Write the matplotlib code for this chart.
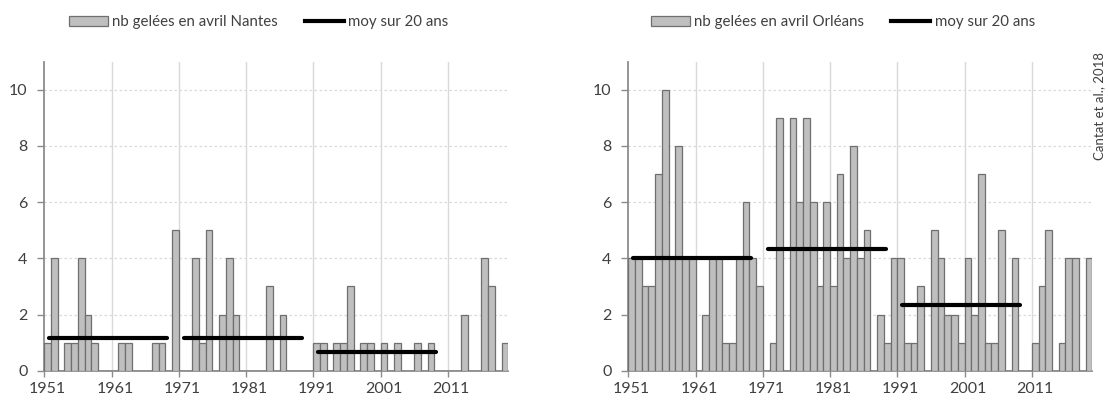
import numpy as np
import matplotlib
matplotlib.use("Agg")
import matplotlib.pyplot as plt
from matplotlib.patches import Patch
from matplotlib.lines import Line2D

plt.rcParams["font.family"] = ["Lato", "DejaVu Sans"]

years = np.arange(1951, 2020)

# nombre de jours de gel en avril, 1951-2019
nantes = [1, 4, 0, 1, 1, 4, 2, 1, 0, 0,
          0, 1, 1, 0, 0, 0, 1, 1, 0, 5,
          0, 0, 4, 1, 5, 0, 2, 4, 2, 0,
          0, 0, 0, 3, 0, 2, 0, 0, 0, 0,
          1, 1, 0, 1, 1, 3, 0, 1, 1, 0,
          1, 0, 1, 0, 0, 1, 0, 1, 0, 0,
          0, 0, 2, 0, 0, 4, 3, 0, 1]
orleans = [4, 4, 3, 3, 7, 10, 4, 8, 4, 4,
           0, 2, 4, 4, 1, 1, 4, 6, 4, 3,
           0, 1, 9, 0, 9, 6, 9, 6, 3, 6,
           3, 7, 4, 8, 4, 5, 0, 2, 1, 4,
           4, 1, 1, 3, 0, 5, 4, 2, 2, 1,
           4, 2, 7, 1, 1, 5, 0, 4, 0, 0,
           1, 3, 5, 0, 1, 4, 4, 0, 4]

# moyennes sur 20 ans
periods = [(1951, 1970), (1971, 1990), (1991, 2010)]
nantes_moy = [1.15, 1.15, 0.65]
orleans_moy = [4.0, 4.35, 2.35]

panels = [
    ("Nantes", nantes, nantes_moy),
    ("Orléans", orleans, orleans_moy),
]

BAR_FC = "#bfbfbf"
BAR_EC = "#6f6f6f"
TXT = "#404040"
GRID = "#d9d9d9"
AXC = "#8c8c8c"

fig = plt.figure(figsize=(11.08, 4.0), dpi=100)
W, H = 1108, 400
axes_px = [(44.3, 508.3), (628.3, 1092.3)]
top_px, bot_px = 61.7, 370.7

for (city, vals, moy), (x0, x1) in zip(panels, axes_px):
    ax = fig.add_axes([x0 / W, 1 - bot_px / H, (x1 - x0) / W, (bot_px - top_px) / H])
    ax.bar(years, vals, width=1.0, color=BAR_FC, edgecolor=BAR_EC, linewidth=0.9, zorder=3)
    for (p0, p1), m in zip(periods, moy):
        ax.plot([p0 + 0.2, p1 - 1.2], [m, m], color="black", lw=3.0,
                solid_capstyle="round", zorder=4)

    ax.set_xlim(1950.5, 2019.5)
    ax.set_ylim(0, 11)

    # graduations : étiquettes centrées sur les barres, traits entre les catégories
    dec = np.arange(1951, 2020, 10)
    ax.set_xticks(dec - 0.5)
    ax.set_xticklabels([])
    ax.set_xticks(dec, minor=True)
    ax.set_xticklabels([str(d) for d in dec], minor=True)
    ax.tick_params(axis="x", which="major", length=4, width=1, color=AXC, direction="out")
    ax.tick_params(axis="x", which="minor", length=0, pad=8, labelsize=11.5, labelcolor=TXT)
    ax.set_yticks(np.arange(0, 11, 2))
    ax.tick_params(axis="y", length=5, width=1, color=AXC, pad=7, labelsize=11.5, labelcolor=TXT)

    for d in dec[1:]:
        ax.axvline(d - 0.5, color=GRID, lw=1.0, zorder=1)
    for yv in np.arange(2, 11, 2):
        ax.axhline(yv, color=GRID, lw=0.9, ls=(0, (2, 2)), zorder=1)

    for s in ["top", "right"]:
        ax.spines[s].set_visible(False)
    for s in ["left", "bottom"]:
        ax.spines[s].set_color(AXC)
        ax.spines[s].set_linewidth(1.3)

    handles = [
        Patch(facecolor=BAR_FC, edgecolor=BAR_EC, linewidth=0.9),
        Line2D([0], [0], color="black", lw=3.0),
    ]
    labels = [f"nb gelées en avril {city}", "moy sur 20 ans"]
    leg = ax.legend(handles, labels, loc="center", bbox_to_anchor=(0.462, 1.128),
                    ncol=2, frameon=False, fontsize=10.8, handlelength=2.6,
                    handleheight=0.7, handletextpad=0.3, columnspacing=1.8)
    for t in leg.get_texts():
        t.set_color(TXT)

fig.text(1099 / W, 1 - 106 / H, "Cantat et al., 2018", rotation=90, ha="center",
         va="center", fontsize=9.5, color=TXT)

fig.savefig("out.png", dpi=100)
